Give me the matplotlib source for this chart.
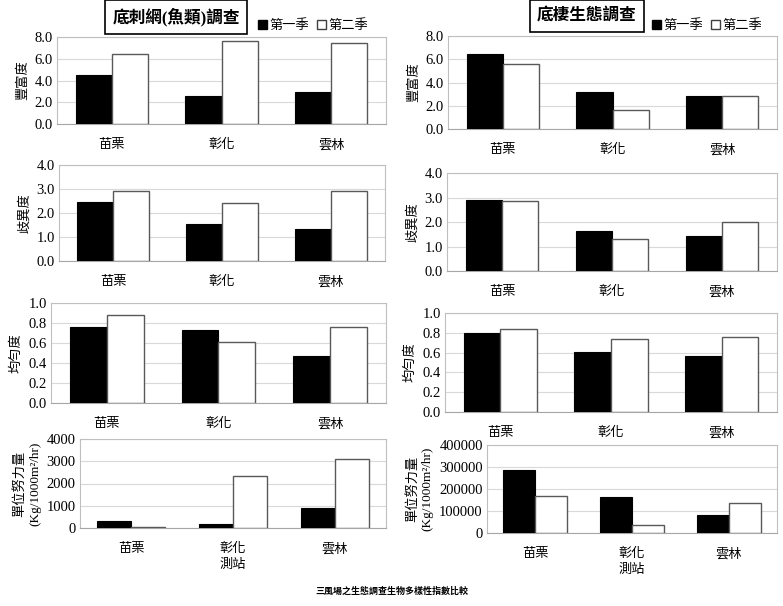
import numpy as np
import matplotlib
matplotlib.use("Agg")
import matplotlib.pyplot as plt
from matplotlib.patches import Patch

plt.rcParams['font.family'] = ['Liberation Serif', 'Noto Sans CJK TC', 'DejaVu Sans']

# 資料
stations = ['苗栗', '彰化', '雲林']
seasons = ['第一季', '第二季']

fish_richness_s1 = [4.55, 2.55, 2.97]
fish_richness_s2 = [6.45, 7.65, 7.48]
fish_diversity_s1 = [2.44, 1.56, 1.34]
fish_diversity_s2 = [2.90, 2.40, 2.90]
fish_evenness_s1 = [0.76, 0.727, 0.47]
fish_evenness_s2 = [0.88, 0.61, 0.76]
fish_cpue_s1 = [300, 180, 900]
fish_cpue_s2 = [45, 2320, 3115]

ben_richness_s1 = [6.43, 3.14, 2.83]
ben_richness_s2 = [5.57, 1.60, 2.83]
ben_diversity_s1 = [2.91, 1.65, 1.43]
ben_diversity_s2 = [2.87, 1.31, 1.99]
ben_evenness_s1 = [0.80, 0.607, 0.57]
ben_evenness_s2 = [0.837, 0.736, 0.756]
ben_cpue_s1 = [285000, 165000, 81000]
ben_cpue_s2 = [170000, 36000, 137000]

W, H = 783, 606
fig = plt.figure(figsize=(W / 100, H / 100), dpi=100)


def add_ax(x0, y0, x1, y1):
    return fig.add_axes([x0 / W, 1 - y1 / H, (x1 - x0) / W, (y1 - y0) / H])


def bar_panel(ax, s1, s2, ylim, step, fmt, ylabel, xlabel=None):
    x = np.arange(len(stations))
    w = 0.33
    ax.bar(x - w / 2, s1, w, color='black', edgecolor='black', lw=0.8, zorder=3)
    ax.bar(x + w / 2, s2, w, color='white', edgecolor='#595959', lw=1.0, zorder=3)
    ax.set_xlim(-0.5, 2.5)
    ax.set_ylim(0, ylim)
    ticks = np.arange(0, ylim + step / 2, step)
    ax.set_yticks(ticks)
    ax.set_yticklabels([fmt.format(v) for v in ticks], fontsize=10.5)
    ax.set_xticks(x)
    ax.set_xticklabels(stations, fontsize=9.5)
    ax.tick_params(length=0, axis='x', pad=11)
    ax.tick_params(length=0, axis='y', pad=3)
    ax.grid(axis='y', color='#d9d9d9', lw=0.8, zorder=0)
    for s in ax.spines.values():
        s.set_color('#bfbfbf')
        s.set_linewidth(0.8)
    ax.spines['bottom'].set_color('#a6a6a6')
    ax.set_ylabel(ylabel, fontsize=9.5, labelpad=4)
    if xlabel:
        ax.set_xlabel(xlabel, fontsize=9.5, labelpad=2)


# 左欄：底刺網(魚類)
a = add_ax(57, 37, 386, 124)
bar_panel(a, fish_richness_s1, fish_richness_s2, 8, 2, '{:.1f}', '豐富度')
a = add_ax(59, 165, 385, 261)
bar_panel(a, fish_diversity_s1, fish_diversity_s2, 4, 1, '{:.1f}', '歧異度')
a = add_ax(51, 303, 386, 403)
bar_panel(a, fish_evenness_s1, fish_evenness_s2, 1, 0.2, '{:.1f}', '均勻度')
a = add_ax(80, 439, 386, 528)
bar_panel(a, fish_cpue_s1, fish_cpue_s2, 4000, 1000, '{:.0f}',
          '單位努力量\n(Kg/1000m²/hr)', '測站')

# 右欄：底棲生態
a = add_ax(448, 36, 777, 129)
bar_panel(a, ben_richness_s1, ben_richness_s2, 8, 2, '{:.1f}', '豐富度')
a = add_ax(447, 173, 777, 271)
bar_panel(a, ben_diversity_s1, ben_diversity_s2, 4, 1, '{:.1f}', '歧異度')
a = add_ax(445, 313, 777, 412)
bar_panel(a, ben_evenness_s1, ben_evenness_s2, 1, 0.2, '{:.1f}', '均勻度')
a = add_ax(487, 445, 777, 533)
bar_panel(a, ben_cpue_s1, ben_cpue_s2, 400000, 100000, '{:.0f}',
          '單位努力量\n(Kg/1000m²/hr)', '測站')

# 標題框
box = dict(boxstyle='square,pad=0.45', fc='white', ec='black', lw=1.2)
fig.text(176 / W, 1 - 17 / H, '底刺網(魚類)調查', ha='center', va='center',
         fontsize=12, fontweight='bold', bbox=box)
fig.text(587 / W, 1 - 16 / H, '底棲生態調查', ha='center', va='center',
         fontsize=12, fontweight='bold', bbox=box)

# 圖例
handles = [Patch(fc='black', ec='black'), Patch(fc='white', ec='#404040')]
for xl in (258, 652):
    fig.legend(handles, seasons, loc='center left',
               bbox_to_anchor=(xl / W, 1 - 26 / H), ncol=2, frameon=False,
               fontsize=9.5, handlelength=0.7, handleheight=0.7,
               handletextpad=0.15, columnspacing=0.6, borderpad=0, borderaxespad=0)

fig.text(0.5, 1 - 591 / H, '三風場之生態調查生物多樣性指數比較', ha='center', va='center',
         fontsize=6.5, fontweight='bold', family=['Noto Sans CJK TC'])

fig.savefig('out.png', dpi=100, facecolor='white')
